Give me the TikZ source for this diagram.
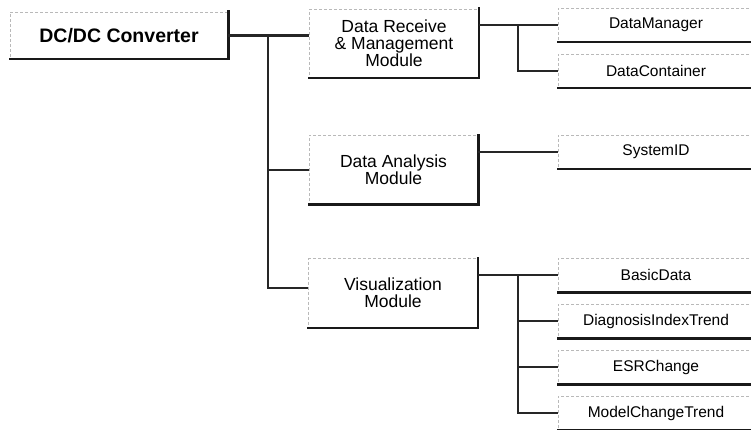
\documentclass[tikz,border=0pt]{standalone}
\usepackage{fontspec}
\setmainfont{Liberation Sans}
\usetikzlibrary{positioning}

\begin{document}
\begin{tikzpicture}[x=1pt,y=-1pt,on grid,node distance=46pt,
box/.style={draw=gray!55,dash pattern=on 3pt off 2pt,line width=0.5pt,
    inner sep=0pt,align=center,font=\fontsize{15.5}{17}\selectfont},
topbox/.style={box,minimum width=218pt,minimum height=47pt,
    font=\fontsize{19.5}{21}\selectfont\bfseries},
module/.style={box,minimum width=169pt,minimum height=69pt,
    font=\fontsize{17.5}{17}\selectfont},
leaf/.style={box,minimum width=196pt,minimum height=34pt},
link/.style={line width=2.5pt,black!85},
rim/.style={line width=2.5pt,black!90,line cap=rect}]

\useasboundingbox (0,0) rectangle (751,430);
\clip (0,0) rectangle (751,430);

\node[topbox](conv) at (119,35.5) {DC/DC Converter};
\node[module](recv) at (394,43.5) {Data Receive\\ \& Management\\ Module};
\node[module](ana) at (393.5,170) {Data Analysis\\ Module};
\node[module](vis) at (393,293) {Visualization\\ Module};
\node[leaf](mgr) at (656,25) {DataManager};
\node[leaf](cont) [below=of mgr] {DataContainer};
\node[leaf](sysid) at (656,152) {SystemID};
\node[leaf](basic) at (656,275) {BasicData};
\node[leaf](diag) [below=of basic] {DiagnosisIndexTrend};
\node[leaf](esr) [below=of diag] {ESRChange};
\node[leaf](model) [below=of esr] {ModelChangeTrend};

% heavy bottom and right sides
\foreach \n in {conv,recv,ana,vis,mgr,cont,sysid,basic,diag,esr,model}
  \draw[rim] (\n.south west) -- (\n.south east) -- (\n.north east);

\coordinate (trunk) at (268,0);
\coordinate (split1) at (518,0);
\coordinate (split2) at (518,0);

\draw[link] (conv.east) -- (recv.west |- conv.east);
\draw[link] (trunk |- conv.east) |- ([yshift=5pt]vis.west);
\draw[link] (trunk |- ana.west) -- (ana.west);

\draw[link] (recv.east |- mgr.west) -- (mgr.west);
\draw[link] (split1 |- mgr.west) |- (cont.west);

\draw[link] (ana.east |- sysid.west) -- (sysid.west);

\draw[link] (vis.east |- basic.west) -- (basic.west);
\draw[link] (split2 |- basic.west) |- (model.west);
\foreach \n in {diag,esr}
  \draw[link] (split2 |- \n.west) -- (\n.west);

\end{tikzpicture}
\end{document}
